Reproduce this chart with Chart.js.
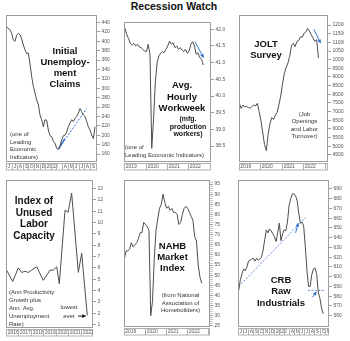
<!DOCTYPE html>
<html>
<head>
<meta charset="utf-8">
<script src="https://cdn.jsdelivr.net/npm/chart.js@4.4.0/dist/chart.umd.min.js"></script>
<style>
body{margin:0;background:#fff;width:350px;height:341px;overflow:hidden;position:relative;font-family:"Liberation Sans",Arial,sans-serif}
canvas{position:absolute}
.t{position:absolute;white-space:nowrap;color:#111}
.big{font-weight:bold;font-size:9.5px;line-height:11px;text-align:center;transform:translateX(-50%)}
.note{font-size:6px;line-height:7.5px;color:#333}
.c{text-align:center;transform:translateX(-50%)}
</style>
</head>
<body>
<div class="t" style="left:174px;top:0px;transform:translateX(-50%);font-weight:bold;font-size:10.5px;line-height:13px">Recession Watch</div>

<canvas id="c1"></canvas>
<canvas id="c2"></canvas>
<canvas id="c3"></canvas>
<canvas id="c4"></canvas>
<canvas id="c5"></canvas>
<canvas id="c6"></canvas>

<div class="t big" style="left:65px;top:44.5px">Initial<br>Unemploy-<br>ment<br>Claims</div>
<div class="t note" style="left:10px;top:131px">(one of<br>Leading<br>Economic<br>Indicators)</div>

<div class="t big" style="left:182px;top:79px;line-height:11.5px">Avg.<br>Hourly<br>Workweek</div>
<div class="t big" style="left:188px;top:115px;font-size:7px;line-height:7.7px">(mfg.<br>production<br>workers)</div>
<div class="t note" style="left:125px;top:144px;line-height:7.7px">(one of<br>Leading Economic Indicators)</div>

<div class="t big" style="left:266px;top:37.5px;line-height:11.5px">JOLT<br>Survey</div>
<div class="t note c" style="left:304.5px;top:111px;line-height:7.4px">(Job<br>Openings<br>and Labor<br>Turnover)</div>

<div class="t big" style="left:34px;top:195px;font-size:10px;line-height:11.7px">Index of<br>Unused<br>Labor<br>Capacity</div>
<div class="t note" style="left:9px;top:289px;line-height:7.9px">(Ann Productivity<br>Growth plus<br>Ann. Avg.<br>Unemployment<br>Rate)</div>
<div class="t note c" style="left:69px;top:303px;line-height:9px">lowest<br>ever</div>

<div class="t big" style="left:172.5px;top:239.5px">NAHB<br>Market<br>Index</div>
<div class="t note c" style="left:180.5px;top:292px;line-height:7.6px">(from National<br>Association of<br>Homebuilders)</div>

<div class="t big" style="left:281px;top:273.5px;line-height:11.5px">CRB<br>Raw<br>Industrials</div>

<script>
// ---- data ----
// Initial claims (thousands), roughly weekly, Jun 2021 -> Sep 2022 (x in months from Jun 2021)
const claimsValues = [435, 431, 427, 425, 417, 403, 400, 413, 417, 414, 405, 392, 382, 374, 375, 352, 325, 304, 290, 275,
  265, 243, 233, 218, 233, 232, 211, 199, 197, 187, 183, 172, 170, 177, 190, 199, 200, 207, 218, 226,
  233, 229, 236, 240, 247, 257, 250, 243, 240, 229, 218, 211, 200, 193, 218];
const claimsStart = -0.18, claimsEnd = 15.9;
const claimsTicks = [160, 180, 200, 220, 240, 260, 280, 300, 320, 340, 360, 380, 400, 420, 440];
const claimsTrendX = [9.34, 14.4], claimsTrendY = [170, 257];
const claimsMarkX = [9.4, 10.5], claimsMarkY = [171, 193];

// Avg hourly workweek, monthly Jan 2019 -> Sep 2022
const ahwValues = [42.03, 41.83, 41.72, 41.58, 41.53, 41.58, 41.5, 41.55, 41.47, 41.45, 41.4, 41.35,
  41.33, 41.55, 41.25, 38.43, 39.3, 40.4, 41.0, 41.2, 41.28, 41.33, 41.3, 41.4,
  41.5, 41.65, 41.55, 41.6, 41.45, 41.5, 41.4, 41.45, 41.38, 41.33, 41.4, 41.28,
  41.35, 41.55, 41.63, 41.5, 41.25, 41.3, 41.15, 41.1, 40.93];
const ahwTicks = [38.5, 39.0, 39.5, 40.0, 40.5, 41.0, 41.5, 42.0];
const ahwArrowX = [39.3, 44.1], ahwArrowY = [41.63, 41.15];

// JOLTS job openings (thousands), monthly Jan 2019 -> Sep 2022
const joltValues = [7480, 7190, 7380, 7290, 7290, 7250, 7190, 7300, 7380, 7330, 7480, 7000,
  6500, 5800, 5100, 4750, 5700, 6300, 6650, 6550, 6800, 6950, 7400, 7900,
  8600, 9200, 9550, 9800, 10200, 10800, 10950, 10750, 11050, 11100, 11330, 11300,
  11520, 11600, 11800, 11650, 11430, 11250, 11050, 11150, 10100];
const joltTicks = [4500, 5000, 5500, 6000, 6500, 7000, 7500, 8000, 8500, 9000, 9500, 10000, 10500, 11000, 11500, 12000];
const joltArrowX = [41.5, 45.2], joltArrowY = [11750, 10950];

// Index of unused labor capacity
const capYears = [2016.0, 2016.54, 2016.99, 2017.26, 2017.53, 2017.8, 2018.06, 2018.47, 2019.0, 2019.54,
  2019.8, 2020.08, 2020.29, 2020.75, 2021.0, 2021.28, 2021.82, 2022.09, 2022.54];
const capValues = [5.9, 4.8, 6.0, 5.6, 5.7, 5.6, 5.8, 6.1, 4.9, 5.8, 5.8, 6.1, 4.6, 11.1, 10.9, 12.6, 5.6, 7.3, 1.8];
const capTicks = [1, 2, 3, 4, 5, 6, 7, 8, 9, 10, 11, 12, 13];
const capArrowX = [2021.8, 2022.42], capArrowY = [1.75, 1.75];

// NAHB housing market index, monthly Jan 2019 -> Sep 2022
const nahbValues = [58, 62, 62, 63, 66, 64, 65, 66, 68, 71, 71, 76,
  75, 74, 72, 30, 37, 58, 72, 78, 83, 85, 90, 86,
  83, 84, 82, 83, 81, 81, 80, 75, 76, 80, 83, 84,
  83, 81, 79, 77, 69, 67, 55, 49, 46];
const nahbTicks = [];
for (let v = 25; v <= 96; v++) nahbTicks.push(v);

// CRB raw industrials, roughly weekly, Jun 2021 -> Oct 2022
const crbValues = [586, 597, 603, 608, 606, 610, 616, 617, 618, 619, 616, 619, 617, 618, 620, 627, 638, 648, 645, 649,
  647, 644, 641, 636, 645, 655, 637, 644, 648, 647, 656, 673, 680, 685, 685, 683, 678, 665, 655, 656,
  652, 631, 607, 590, 590, 602, 608, 609, 603, 584, 578, 568, 562];
const crbStart = 0.15, crbEnd = 16.7;
const crbTicks = [560, 570, 580, 590, 600, 610, 620, 630, 640, 650, 660, 670, 680, 690];
const crbTrendX = [0.15, 13.3], crbTrendY = [590, 661];
const crbArrow1X = [11.3, 11.8], crbArrow1Y = [645, 655];
const crbFloorX = [13.7, 16.9], crbFloorY = [586, 586];
const crbArrow2X = [14.6, 15.4], crbArrow2Y = [579, 584.5];

// axis label bands
const monthLabels = ['J', 'J', 'A', 'S', 'O', 'N', 'D', '2022', '', '', 'A', 'M', 'J', 'J', 'A', 'S', 'O', 'N'];
const monthEdges = monthLabels.map((l, i) => i);
const yearLabels = ['2019', '2020', '2021', '2022', ''];
const yearEdges = [-0.5, 11.5, 23.5, 35.5, 47.5];
const capYearLabels = ['2016', '2017', '2018', '2019', '2020', '2021', '2022'];
const capYearEdges = [2016, 2017, 2018, 2019, 2020, 2021, 2022];

// ---- drawing ----
Chart.defaults.font.family = '"Liberation Sans", Arial, sans-serif';
const LINE = '#4d4d4d';
const BLUE = '#2f74d0';

function pts(xs, ys) { return ys.map((y, i) => ({x: xs[i], y: y})); }
function spread(vals, a, b) { return vals.map((v, i) => ({x: a + i * (b - a) / (vals.length - 1), y: v})); }
function monthly(vals) { return vals.map((v, i) => ({x: i, y: v})); }

const framePlugin = {
  id: 'frame',
  afterDraw(chart, args, opts) {
    const ctx = chart.ctx, a = chart.chartArea, x = chart.scales.x;
    ctx.save();
    ctx.strokeStyle = '#9c9c9c';
    ctx.lineWidth = 1;
    ctx.strokeRect(a.left + 0.5, a.top + 0.5, a.width - 1, a.height - 1);
    const bt = a.bottom + 1.5, bh = 6.5;
    ctx.strokeStyle = '#b0b0b0';
    ctx.strokeRect(a.left + 0.5, bt, a.width - 1, bh);
    ctx.beginPath();
    ctx.rect(a.left, bt, a.width, bh);
    ctx.clip();
    ctx.font = '5px "Liberation Sans", Arial, sans-serif';
    ctx.fillStyle = '#555';
    ctx.textBaseline = 'middle';
    opts.edges.forEach((e, i) => {
      const px = Math.round(x.getPixelForValue(e)) + 0.5;
      if (px > a.left + 1 && px < a.right - 1) {
        ctx.beginPath();
        ctx.moveTo(px, bt);
        ctx.lineTo(px, bt + bh);
        ctx.stroke();
      }
      const lx = Math.max(px, a.left);
      if (opts.labels[i]) ctx.fillText(opts.labels[i], lx + 1.2, bt + bh / 2 + 0.3);
    });
    ctx.restore();
  }
};

const arrowPlugin = {
  id: 'arrows',
  afterDatasetsDraw(chart) {
    const ctx = chart.ctx;
    chart.data.datasets.forEach((ds, i) => {
      if (!ds.arrow) return;
      const d = chart.getDatasetMeta(i).data;
      const p1 = d[d.length - 2], p2 = d[d.length - 1];
      const ang = Math.atan2(p2.y - p1.y, p2.x - p1.x);
      const s = 4;
      ctx.save();
      ctx.fillStyle = ds.borderColor;
      ctx.beginPath();
      ctx.moveTo(p2.x, p2.y);
      ctx.lineTo(p2.x - s * Math.cos(ang - 0.5), p2.y - s * Math.sin(ang - 0.5));
      ctx.lineTo(p2.x - s * Math.cos(ang + 0.5), p2.y - s * Math.sin(ang + 0.5));
      ctx.closePath();
      ctx.fill();
      ctx.restore();
    });
  }
};

function mainSet(data) {
  return {data: data, borderColor: LINE, borderWidth: 1, pointRadius: 0, tension: 0};
}
function markSet(data, color, dash, arrow, width) {
  return {data: data, borderColor: color, borderWidth: width || 1, borderDash: dash || [], pointRadius: 0, arrow: !!arrow};
}

function panel(id, rect, xmin, xmax, ymin, ymax, ticks, fmt, bandEdges, bandLabels, datasets, minor) {
  const cv = document.getElementById(id);
  const w = (rect.R - rect.L) + 1 + 16, h = (rect.B - rect.T) + 4 + 10;
  cv.width = w; cv.height = h;
  cv.style.left = (rect.L - 1) + 'px';
  cv.style.top = (rect.T - 4) + 'px';
  cv.style.width = w + 'px';
  cv.style.height = h + 'px';
  return new Chart(cv, {
    type: 'line',
    data: {datasets: datasets},
    options: {
      responsive: false,
      animation: false,
      devicePixelRatio: 1,
      layout: {padding: {left: 1, top: 4, right: 0, bottom: 10}},
      plugins: {legend: {display: false}, tooltip: {enabled: false},
        frame: {edges: bandEdges, labels: bandLabels}},
      scales: {
        x: {type: 'linear', min: xmin, max: xmax, display: false},
        y: {
          position: 'right', min: ymin, max: ymax,
          afterBuildTicks: s => { s.ticks = ticks.map(v => ({value: v})); },
          afterFit: s => { s.width = 16; s.paddingTop = 0; s.paddingBottom = 0; },
          grid: {drawOnChartArea: false, tickLength: 3, tickWidth: 0.8,
            color: c => (minor && c.tick && c.tick.value % 5 !== 0) ? '#bbb' : '#888'},
          border: {display: false},
          ticks: {autoSkip: false, padding: 1.5, color: '#555', font: {size: 5}, callback: fmt}
        }
      }
    },
    plugins: [framePlugin, arrowPlugin]
  });
}

const plain = v => String(v);

panel('c1', {L: 6, T: 15, R: 97, B: 162}, 0, 16.25, 143, 456, claimsTicks, plain, monthEdges, monthLabels, [
  mainSet(spread(claimsValues, claimsStart, claimsEnd)),
  markSet(pts(claimsTrendX, claimsTrendY), BLUE, [2, 1.5]),
  markSet(pts(claimsMarkX, claimsMarkY), BLUE, [], false, 1.4)
]);

panel('c2', {L: 124, T: 22, R: 211, B: 162}, -0.6, 48.3, 38.02, 42.22, ahwTicks, v => v.toFixed(1), yearEdges, yearLabels, [
  mainSet(monthly(ahwValues)),
  markSet(pts(ahwArrowX, ahwArrowY), BLUE, [], true)
]);

panel('c3', {L: 239, T: 15, R: 328, B: 162}, -0.2, 49.3, 4096, 12577, joltTicks, plain, yearEdges, yearLabels, [
  mainSet(monthly(joltValues)),
  markSet(pts(joltArrowX, joltArrowY), BLUE, [], true)
]);

panel('c4', {L: 6, T: 180, R: 93, B: 328}, 2016, 2023, 0.7, 13.75, capTicks, plain, capYearEdges, capYearLabels, [
  mainSet(pts(capYears, capValues)),
  markSet(pts(capArrowX, capArrowY), '#111', [], true)
]);

panel('c5', {L: 124, T: 180, R: 210, B: 327}, -0.2, 48.7, 24.4, 97, nahbTicks, v => (v % 5 === 0 ? String(v) : ''), yearEdges, yearLabels, [
  mainSet(monthly(nahbValues))
], true);

panel('c6', {L: 238, T: 180, R: 329, B: 327}, 0, 17.85, 548.4, 699.2, crbTicks, plain, monthEdges, monthLabels, [
  mainSet(spread(crbValues, crbStart, crbEnd)),
  markSet(pts(crbTrendX, crbTrendY), '#5b8fd8', [2, 1.5]),
  markSet(pts(crbArrow1X, crbArrow1Y), BLUE, [], true),
  markSet(pts(crbFloorX, crbFloorY), '#5b8fd8', [2, 1.5]),
  markSet(pts(crbArrow2X, crbArrow2Y), BLUE, [], true)
]);
</script>
</body>
</html>
